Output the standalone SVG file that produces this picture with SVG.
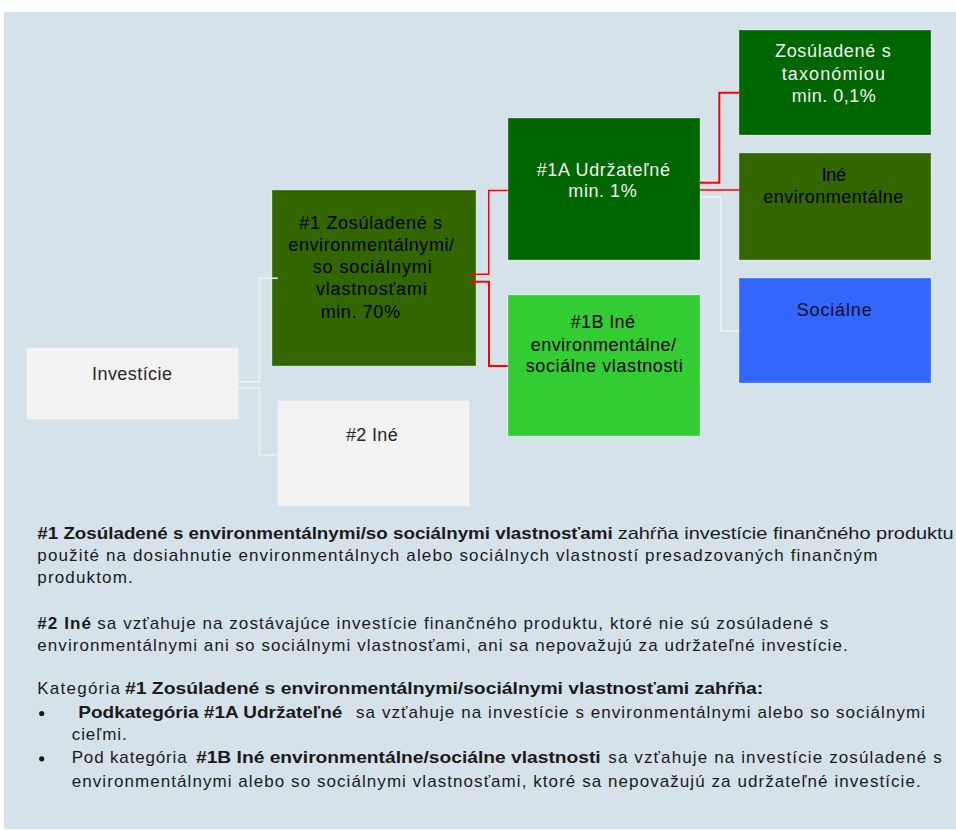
<svg xmlns="http://www.w3.org/2000/svg" width="956" height="830" viewBox="0 0 956 830">
<style>
.bx{stroke:#ffffff;stroke-opacity:0.3;stroke-width:1}
.t{font-family:"Liberation Sans",Arial,sans-serif;font-size:18px;text-anchor:middle}
.b{font-family:"Liberation Sans",Arial,sans-serif;font-size:17px;fill:#1a1a1a}
.bb{font-weight:bold}
.red{fill:none;stroke:#ff0000;stroke-width:1.5}
.wh{fill:none;stroke:#f2f2f2;stroke-width:1.5}
</style>
<rect x="0" y="0" width="956" height="830" fill="#ffffff"/>
<rect x="4" y="12" width="952" height="817" fill="#d6e2ea"/>

<g id="n-investicie">
<rect class="bx" x="27" y="348" width="211" height="71" fill="#f2f2f2"/>
<text class="t" x="132" y="380" fill="#262626" textLength="80" lengthAdjust="spacing">Investície</text>
</g>
<g id="n-1">
<rect class="bx" x="272" y="190" width="204" height="176" fill="#336600"/>
<text class="t" x="370.7" y="229.3" fill="#000" textLength="142.7" lengthAdjust="spacing">#1 Zosúladené s</text>
<text class="t" x="371.2" y="251" fill="#000" textLength="165.7" lengthAdjust="spacing">environmentálnymi/</text>
<text class="t" x="372.2" y="273.3" fill="#000" textLength="119" lengthAdjust="spacing">so sociálnymi</text>
<text class="t" x="371.3" y="295" fill="#000" textLength="110.7" lengthAdjust="spacing">vlastnosťami</text>
<text class="t" x="360.3" y="317.7" fill="#000" textLength="79.3" lengthAdjust="spacing">min. 70%</text>
</g>
<g id="n-2">
<rect class="bx" x="278" y="401" width="191" height="105" fill="#f2f2f2"/>
<text class="t" x="371.8" y="440.7" fill="#262626" textLength="51.7" lengthAdjust="spacing">#2 Iné</text>
</g>
<g id="n-1a">
<rect class="bx" x="508" y="118" width="192" height="142" fill="#006600"/>
<text class="t" x="603.3" y="176" fill="#f2f2f2" textLength="133.3" lengthAdjust="spacing">#1A Udržateľné</text>
<text class="t" x="602.5" y="196.7" fill="#f2f2f2" textLength="68.3" lengthAdjust="spacing">min. 1%</text>
</g>
<g id="n-1b">
<rect class="bx" x="508" y="295" width="192" height="141" fill="#33cc33"/>
<text class="t" x="602.8" y="327.7" fill="#000" textLength="64.3" lengthAdjust="spacing">#1B Iné</text>
<text class="t" x="603.3" y="351" fill="#000" textLength="145.3" lengthAdjust="spacing">environmentálne/</text>
<text class="t" x="604.2" y="372.3" fill="#000" textLength="157" lengthAdjust="spacing">sociálne vlastnosti</text>
</g>
<g id="n-taxonomia">
<rect class="bx" x="739" y="30" width="192" height="105" fill="#006600"/>
<text class="t" x="832.8" y="56.7" fill="#f2f2f2" textLength="115.7" lengthAdjust="spacing">Zosúladené s</text>
<text class="t" x="833.3" y="80" fill="#f2f2f2" textLength="103.3" lengthAdjust="spacing">taxonómiou</text>
<text class="t" x="833.7" y="101.7" fill="#f2f2f2" textLength="84" lengthAdjust="spacing">min. 0,1%</text>
</g>
<g id="n-ine-env">
<rect class="bx" x="739" y="153" width="192" height="107" fill="#336600"/>
<text class="t" x="833.8" y="180.7" fill="#000" textLength="24.3" lengthAdjust="spacing">Iné</text>
<text class="t" x="833.3" y="203.3" fill="#000" textLength="140" lengthAdjust="spacing">environmentálne</text>
</g>
<g id="n-socialne">
<rect class="bx" x="739" y="278" width="192" height="105" fill="#3366ff"/>
<text class="t" x="834.2" y="316" fill="#111122" textLength="75" lengthAdjust="spacing">Sociálne</text>
</g>

<g id="connectors">
<path class="wh" d="M238,381.7 H259.3 V278.3 H277.7"/>
<path class="wh" d="M238,388.3 H259.3 V455 H277.7"/>
<path class="red" d="M470,274.3 H488.7 V190.5 H507.7"/>
<path class="red" style="stroke-width:2" d="M470,281.7 H489 V366 H507.7"/>
<path class="red" style="stroke-width:2" d="M700,182.7 H719.3 V92.7 H739.3"/>
<path class="red" d="M700,190 H739.3"/>
<path class="wh" d="M700,197.3 H720.7 V331 H739.3"/>
</g>

<g id="legend">
<text class="b bb" x="37.3" y="539" textLength="575.4" lengthAdjust="spacingAndGlyphs">#1 Zosúladené s environmentálnymi/so sociálnymi vlastnosťami</text>
<text class="b" x="617.7" y="539" textLength="336" lengthAdjust="spacingAndGlyphs">zahŕňa investície finančného produktu</text>
<text class="b" x="37.3" y="561" textLength="840" lengthAdjust="spacing">použité na dosiahnutie environmentálnych alebo sociálnych vlastností presadzovaných finančným</text>
<text class="b" x="37.3" y="583" textLength="95.4" lengthAdjust="spacing">produktom.</text>

<text class="b bb" x="37.3" y="629.3" textLength="53.7" lengthAdjust="spacing">#2 Iné</text>
<text class="b" x="97.3" y="629.3" textLength="731" lengthAdjust="spacing">sa vzťahuje na zostávajúce investície finančného produktu, ktoré nie sú zosúladené s</text>
<text class="b" x="37.3" y="650.5" textLength="810.4" lengthAdjust="spacing">environmentálnymi ani so sociálnymi vlastnosťami, ani sa nepovažujú za udržateľné investície.</text>

<text class="b" x="37.3" y="694" textLength="82.7" lengthAdjust="spacing">Kategória</text>
<text class="b bb" x="125" y="694" textLength="638.3" lengthAdjust="spacingAndGlyphs">#1 Zosúladené s environmentálnymi/sociálnymi vlastnosťami zahŕňa:</text>

<circle cx="41.7" cy="713.5" r="2.6" fill="#1a1a1a"/>
<text class="b bb" x="78.3" y="718" textLength="264" lengthAdjust="spacingAndGlyphs">Podkategória #1A Udržateľné</text>
<text class="b" x="356" y="718" textLength="569" lengthAdjust="spacing">sa vzťahuje na investície s environmentálnymi alebo so sociálnymi</text>
<text class="b" x="71.7" y="740" textLength="55" lengthAdjust="spacing">cieľmi.</text>

<circle cx="41.7" cy="758.8" r="2.6" fill="#1a1a1a"/>
<text class="b" x="71.7" y="763.3" textLength="115" lengthAdjust="spacing">Pod kategória</text>
<text class="b bb" x="196" y="763.3" textLength="404.7" lengthAdjust="spacingAndGlyphs">#1B Iné environmentálne/sociálne vlastnosti</text>
<text class="b" x="608.3" y="763.3" textLength="333.4" lengthAdjust="spacing">sa vzťahuje na investície zosúladené s</text>
<text class="b" x="71.7" y="786.7" textLength="849" lengthAdjust="spacing">environmentálnymi alebo so sociálnymi vlastnosťami, ktoré sa nepovažujú za udržateľné investície.</text>
</g>
</svg>
